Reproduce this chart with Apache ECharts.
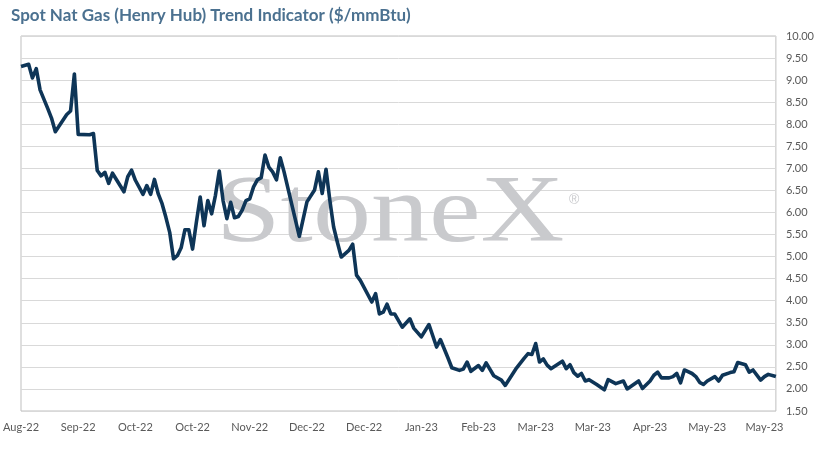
<!DOCTYPE html>
<html>
<head>
<meta charset="utf-8">
<title>Spot Nat Gas Trend Indicator</title>
<script src="https://cdn.jsdelivr.net/npm/echarts@6/dist/echarts.min.js"></script>
<style>
  html, body { margin: 0; padding: 0; background: #fff; }
  #main { width: 817px; height: 450px; }
</style>
</head>
<body>
<div id="main"></div>
<script>
// trading-day index from the first point, and the price on that day
const dayIndex = [
  0, 2, 3, 4, 5, 7, 8, 9, 12, 13, 14, 15, 18, 19, 20, 21, 22, 23, 24, 27,
  28, 29, 30, 32, 33, 34, 35, 36, 37, 38, 39, 40, 41, 42, 43, 44, 45, 46, 47, 48,
  49, 50, 51, 52, 53, 54, 55, 56, 57, 58, 59, 60, 61, 62, 63, 64, 65, 66, 67, 68,
  69, 73, 75, 77, 78, 79, 80, 81, 82, 83, 84, 86, 87, 88, 89, 92, 93, 94, 95, 96,
  97, 98, 100, 102, 103, 105, 107, 109, 110, 112, 113, 115, 116, 117, 118, 120, 121, 122, 124, 126,
  127, 130, 132, 133, 134, 135, 136, 137, 138, 139, 142, 143, 144, 145, 146, 147, 148, 149, 151, 153,
  154, 156, 158, 159, 162, 163, 165, 166, 167, 168, 170, 171, 172, 173, 174, 176, 177, 178, 179, 180,
  182, 183, 184, 186, 187, 188, 190, 191, 192, 194, 195, 196, 198
];
const price = [
  9.31, 9.36, 9.05, 9.26, 8.78, 8.36, 8.14, 7.83, 8.22, 8.30, 9.14, 7.77, 7.76, 7.79, 6.95, 6.83, 6.91, 6.66, 6.89, 6.47,
  6.81, 6.96, 6.73, 6.41, 6.61, 6.41, 6.75, 6.42, 6.20, 5.89, 5.55, 4.95, 5.02, 5.20, 5.61, 5.61, 5.17, 5.78, 6.35, 5.70,
  6.27, 5.97, 6.39, 6.94, 6.27, 5.86, 6.23, 5.88, 5.91, 6.05, 6.27, 6.31, 6.58, 6.74, 6.79, 7.30, 7.03, 6.92, 6.74, 7.24,
  6.92, 5.46, 6.24, 6.51, 6.92, 6.43, 6.98, 6.28, 5.67, 5.32, 4.99, 5.14, 5.28, 4.58, 4.46, 3.97, 4.16, 3.70, 3.74, 3.92,
  3.70, 3.70, 3.40, 3.59, 3.38, 3.18, 3.46, 2.95, 3.12, 2.70, 2.48, 2.42, 2.45, 2.61, 2.40, 2.53, 2.42, 2.59, 2.30, 2.20,
  2.08, 2.48, 2.70, 2.80, 2.78, 3.03, 2.61, 2.68, 2.54, 2.46, 2.63, 2.46, 2.55, 2.37, 2.29, 2.35, 2.18, 2.21, 2.10, 1.98,
  2.21, 2.12, 2.18, 2.00, 2.18, 2.01, 2.18, 2.31, 2.38, 2.25, 2.25, 2.28, 2.35, 2.14, 2.43, 2.35, 2.28, 2.15, 2.10, 2.18,
  2.28, 2.18, 2.31, 2.37, 2.39, 2.60, 2.55, 2.38, 2.43, 2.20, 2.28, 2.33, 2.28
];
// one label every 15 trading days
const tickLabels = [
  "Aug-22", "Sep-22", "Oct-22", "Oct-22", "Nov-22", "Dec-22", "Dec-22",
  "Jan-23", "Feb-23", "Mar-23", "Mar-23", "Apr-23", "May-23", "May-23"
];
const lastDay = 198;

window.onload = function () {
  const myChart = echarts.init(document.getElementById("main"));

  const seriesData = dayIndex.map((d, i) => [d, price[i]]);

  const options = {
    animation: false,
    title: {
      text: "Spot Nat Gas (Henry Hub) Trend Indicator ($/mmBtu)",
      left: 6,
      top: 2,
      textStyle: {
        fontFamily: "Lato",
        fontWeight: "bold",
        fontSize: 17,
        color: "#4b7190"
      }
    },
    grid: {
      left: 20,
      right: 39,
      top: 36,
      bottom: 39,
      show: true,
      borderColor: "#bfbfbf",
      borderWidth: 1
    },
    graphic: [
      {
        type: "text",
        left: 216,
        top: 168,
        z: 1,
        scaleX: 1.21,
        style: {
          text: "StoneX",
          font: "96px 'Liberation Serif'",
          fill: "#c9cacd"
        }
      },
      {
        type: "text",
        left: 569,
        top: 193,
        z: 1,
        style: {
          text: "®",
          font: "14px 'Liberation Sans'",
          fill: "#c9cacd"
        }
      }
    ],
    xAxis: {
      type: "value",
      min: 0,
      max: lastDay,
      interval: 15,
      axisLine: { show: false },
      axisTick: { show: false },
      splitLine: { show: false },
      axisLabel: {
        margin: 11,
        color: "#595959",
        fontFamily: "Lato",
        fontSize: 11,
        showMaxLabel: false,
        formatter: v => (v % 15 === 0 ? tickLabels[v / 15] || "" : "")
      }
    },
    yAxis: {
      type: "value",
      position: "right",
      min: 1.5,
      max: 10,
      interval: 0.5,
      axisLine: { show: false },
      axisTick: { show: false },
      splitLine: { lineStyle: { color: "#d9d9d9", width: 1 } },
      axisLabel: {
        margin: 10,
        color: "#595959",
        fontFamily: "Lato",
        fontSize: 11,
        formatter: v => v.toFixed(2)
      }
    },
    series: [
      {
        name: "Henry Hub",
        type: "line",
        data: seriesData,
        showSymbol: false,
        z: 3,
        lineStyle: { color: "#0e3557", width: 3.6, join: "round" }
      }
    ]
  };

  myChart.setOption(options);
};
</script>
</body>
</html>
